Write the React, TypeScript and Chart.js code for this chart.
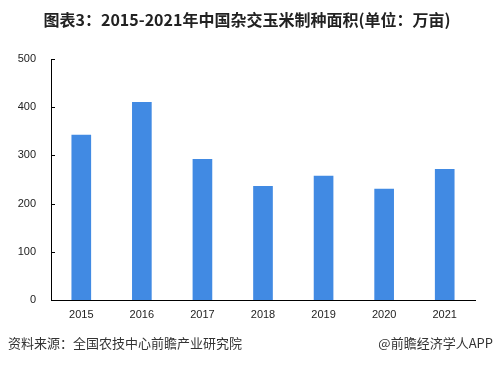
import React, { useEffect, useRef } from "react";
import { Chart, registerables } from "chart.js";

Chart.register(...registerables);

const categories = ["2015", "2016", "2017", "2018", "2019", "2020", "2021"];
const areaValues = [342, 410, 292, 236, 257, 230, 271];
const yTicks = [0, 100, 200, 300, 400, 500];
const titleText = "图表3：2015-2021年中国杂交玉米制种面积(单位：万亩)";
const sourceText = "资料来源：全国农技中心前瞻产业研究院";
const brandText = "@前瞻经济学人APP";

const CJK = '"Noto Sans CJK SC", "Noto Sans", sans-serif';

const decorPlugin = {
  id: "decor",
  afterDatasetsDraw(chart: any) {
    const ctx = chart.ctx;
    const y = chart.scales.y;
    const left = chart.chartArea.left;
    ctx.save();
    ctx.strokeStyle = "#000";
    ctx.lineWidth = 1;
    y.ticks.forEach((t: any) => {
      const py = Math.round(y.getPixelForValue(t.value)) + 0.5;
      ctx.beginPath();
      ctx.moveTo(left, py);
      ctx.lineTo(left + 4, py);
      ctx.stroke();
    });
    ctx.restore();
  },
  afterDraw(chart: any) {
    const ctx = chart.ctx;
    const w = chart.width;
    ctx.save();
    ctx.fillStyle = "#222";
    ctx.font = `bold 16px ${CJK}`;
    ctx.textAlign = "center";
    ctx.textBaseline = "middle";
    ctx.fillText(titleText, w / 2, 20);
    ctx.fillStyle = "#333";
    ctx.font = `13px ${CJK}`;
    ctx.textAlign = "left";
    ctx.fillText(sourceText, 8, 343);
    ctx.textAlign = "right";
    ctx.fillText(brandText, w - 1, 343);
    ctx.restore();
  },
};

export default function App() {
  const ref = useRef<HTMLCanvasElement | null>(null);
  useEffect(() => {
    if (!ref.current) return;
    const chart = new Chart(ref.current, {
      type: "bar",
      data: {
        labels: categories,
        datasets: [
          {
            data: areaValues,
            backgroundColor: "#418ae3",
            barThickness: 19,
          },
        ],
      },
      options: {
        animation: false,
        responsive: false,
        maintainAspectRatio: false,
        layout: { padding: { top: 59, right: 19, left: 0, bottom: 0 } },
        plugins: {
          legend: { display: false },
          title: { display: false },
          tooltip: { enabled: false },
        },
        scales: {
          x: {
            grid: { display: false, drawTicks: false },
            border: { display: true, color: "#000", width: 1 },
            ticks: {
              color: "#222",
              font: { size: 11, family: '"Liberation Sans", Arial, sans-serif' },
              padding: 8,
              maxRotation: 0,
            },
            afterFit: (s: any) => {
              s.height = 72;
            },
          },
          y: {
            min: 0,
            max: 500,
            afterBuildTicks: (s: any) => {
              s.ticks = yTicks.map((v) => ({ value: v }));
            },
            grid: { display: false, drawTicks: false },
            border: { display: true, color: "#000", width: 1 },
            ticks: {
              color: "#222",
              font: { size: 11, family: '"Liberation Sans", Arial, sans-serif' },
              padding: 15,
            },
            afterFit: (s: any) => {
              s.width = 51;
            },
          },
        },
      },
      plugins: [decorPlugin],
    });
    return () => chart.destroy();
  }, []);
  return (
    <div style={{ position: "fixed", left: 0, top: 0, width: 494, height: 372, background: "#fff" }}>
      <canvas ref={ref} width={494} height={372} style={{ width: 494, height: 372, display: "block" }} />
    </div>
  );
}
